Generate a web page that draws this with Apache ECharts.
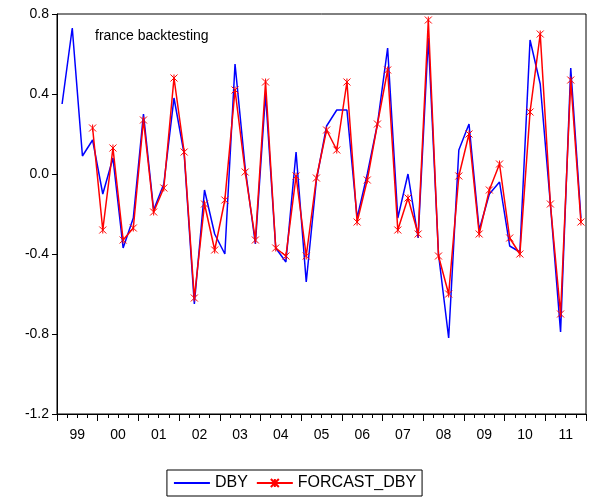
<!DOCTYPE html>
<html>
<head>
<meta charset="utf-8" />
<script src="https://cdn.jsdelivr.net/npm/echarts@6/dist/echarts.min.js"></script>
<style>
*{margin:0;padding:0;}
#main{width:589px;height:503px;background:#fff;}
</style>
</head>
<body>
<div id="main"></div>
<script type="text/javascript">
// quarterly, 1999Q1 .. 2011Q4
var years = ['99','00','01','02','03','04','05','06','07','08','09','10','11'];
var dby = [0.35,0.73,0.09,0.17,-0.10,0.08,-0.37,-0.22,0.30,-0.18,
           -0.05,0.38,0.10,-0.65,-0.08,-0.30,-0.40,0.55,0.03,-0.35,
           0.40,-0.37,-0.44,0.11,-0.54,-0.03,0.24,0.32,0.32,-0.22,
           0.00,0.25,0.63,-0.22,0.00,-0.32,0.68,-0.40,-0.82,0.12,
           0.25,-0.28,-0.10,-0.04,-0.36,-0.39,0.67,0.45,-0.15,-0.79,
           0.53,-0.22];
var forecast = [null,null,null,0.23,-0.28,0.13,-0.33,-0.27,0.27,-0.19,
           -0.07,0.48,0.11,-0.62,-0.15,-0.38,-0.13,0.42,0.01,-0.33,
           0.46,-0.37,-0.41,-0.01,-0.41,-0.02,0.22,0.12,0.46,-0.24,
           -0.03,0.25,0.52,-0.28,-0.12,-0.30,0.77,-0.41,-0.60,-0.01,
           0.20,-0.30,-0.08,0.05,-0.32,-0.40,0.31,0.70,-0.15,-0.70,
           0.47,-0.24];

function pts(arr){
  var out = [];
  for (var i = 0; i < arr.length; i++) {
    out.push([i + 0.5, arr[i]]);
  }
  return out;
}

var font = 'Liberation Sans, Arial, sans-serif';
var myChart = echarts.init(document.getElementById('main'));
var option = {
  backgroundColor: '#fff',
  animation: false,
  grid: {left: 57, right: 0, top: 14, bottom: 89, show: true, borderColor: '#000', borderWidth: 1},
  title: {text: 'france backtesting', left: 90, top: 24,
    textStyle: {fontFamily: font, fontSize: 14, fontWeight: 'normal', color: '#000'}},
  legend: {
    show: true, orient: 'horizontal', top: 470, left: 'center', itemGap: 8, itemWidth: 36, itemHeight: 10,
    borderColor: '#000', borderWidth: 1, borderRadius: 0, padding: [5, 6],
    textStyle: {fontFamily: font, fontSize: 16, color: '#000'},
    data: [{name: 'DBY', itemStyle: {opacity: 0}}, 'FORCAST_DBY']
  },
  xAxis: [{
    type: 'value', min: 0, max: 52, interval: 4,
    axisLine: {show: true, onZero: false, lineStyle: {color: '#000'}},
    axisTick: {show: true, length: 7, lineStyle: {color: '#000'}},
    minorTick: {show: true, splitNumber: 4, length: 4, lineStyle: {color: '#000'}},
    axisLabel: {show: false},
    splitLine: {show: false}
  }, {
    type: 'value', min: 0, max: 52, interval: 2, position: 'bottom',
    axisLine: {show: false, onZero: false}, axisTick: {show: false}, splitLine: {show: false},
    axisLabel: {
      margin: 14, fontFamily: font, fontSize: 14, color: '#000',
      formatter: function (v) { return v % 4 === 2 ? years[(v - 2) / 4] : ''; }
    }
  }],
  yAxis: {
    type: 'value', min: -1.2, max: 0.8, interval: 0.4,
    axisLine: {show: true, onZero: false, lineStyle: {color: '#000'}},
    axisTick: {show: true, length: 5, lineStyle: {color: '#000'}},
    splitLine: {show: false},
    axisLabel: {fontFamily: font, fontSize: 14, color: '#000',
      formatter: function (v) { return v.toFixed(1); }}
  },
  series: [{
    name: 'DBY', type: 'line', data: pts(dby), showSymbol: false, symbol: 'none',
    lineStyle: {color: '#0000ff', width: 1.5}, itemStyle: {color: '#0000ff'}
  }, {
    name: 'FORCAST_DBY', type: 'line', data: pts(forecast),
    symbol: 'path://M0,0L8,8M8,0L0,8M4,0L4,8', symbolSize: 7,
    lineStyle: {color: '#ff0000', width: 1.5},
    itemStyle: {color: 'rgba(0,0,0,0)', borderColor: '#ff0000', borderWidth: 1}
  }]
};
myChart.setOption(option);
</script>
</body>
</html>
